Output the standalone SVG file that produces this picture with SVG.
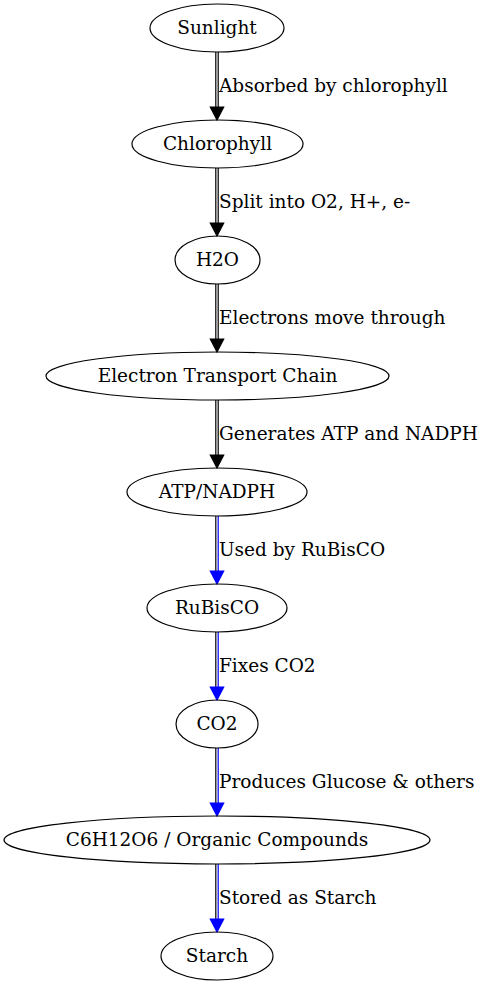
<svg xmlns="http://www.w3.org/2000/svg" width="484" height="987" viewBox="0 0 484 987">
<style>
.n ellipse{fill:none;stroke:#000;stroke-width:1.2}
text{font-family:"DejaVu Serif","Liberation Serif",serif;font-size:18.5px;fill:#000}
.n text{text-anchor:middle}
.l{stroke-width:1.2;fill:none}
.k{stroke:#000}
.b{stroke:#00f}
.ah{fill:#000;stroke:#000;stroke-width:1.2}
.ab{fill:#00f;stroke:#00f;stroke-width:1.2}
</style>
<rect width="484" height="987" fill="#fff"/>
<g id="connectors">
<g id="e1"><path class="l k" d="M215.8,52V107M218.2,52V107"/><polygon class="ah" points="210.3,107 223.7,107 217,120"/><text x="219" y="92">Absorbed by chlorophyll</text></g>
<g id="e2"><path class="l k" d="M215.8,168V223M218.2,168V223"/><polygon class="ah" points="210.3,223 223.7,223 217,236"/><text x="219" y="208">Split into O2, H+, e-</text></g>
<g id="e3"><path class="l k" d="M215.8,284V339M218.2,284V339"/><polygon class="ah" points="210.3,339 223.7,339 217,352"/><text x="219" y="324">Electrons move through</text></g>
<g id="e4"><path class="l k" d="M215.8,400V455M218.2,400V455"/><polygon class="ah" points="210.3,455 223.7,455 217,468"/><text x="219" y="440">Generates ATP and NADPH</text></g>
<g id="e5"><path class="l k" d="M215.8,516V571"/><path class="l b" d="M218.2,516V571"/><polygon class="ab" points="210.3,571 223.7,571 217,584"/><text x="219" y="556">Used by RuBisCO</text></g>
<g id="e6"><path class="l k" d="M215.8,632V687"/><path class="l b" d="M218.2,632V687"/><polygon class="ab" points="210.3,687 223.7,687 217,700"/><text x="219" y="672">Fixes CO2</text></g>
<g id="e7"><path class="l k" d="M215.8,748V803"/><path class="l b" d="M218.2,748V803"/><polygon class="ab" points="210.3,803 223.7,803 217,816"/><text x="219" y="788">Produces Glucose &amp; others</text></g>
<g id="e8"><path class="l k" d="M215.8,864V919"/><path class="l b" d="M218.2,864V919"/><polygon class="ab" points="210.3,919 223.7,919 217,932"/><text x="219" y="904">Stored as Starch</text></g>
</g>
<g id="sunlight" class="n"><ellipse cx="217" cy="28" rx="67" ry="24"/><text x="217" y="34">Sunlight</text></g>
<g id="chlorophyll" class="n"><ellipse cx="217.5" cy="144" rx="85.5" ry="24"/><text x="217.5" y="150">Chlorophyll</text></g>
<g id="h2o" class="n"><ellipse cx="217.5" cy="260" rx="42.5" ry="24"/><text x="217.5" y="266">H2O</text></g>
<g id="etc" class="n"><ellipse cx="217.5" cy="376" rx="171.5" ry="24"/><text x="217.5" y="382">Electron Transport Chain</text></g>
<g id="atp" class="n"><ellipse cx="217" cy="492" rx="90" ry="24"/><text x="217" y="498">ATP/NADPH</text></g>
<g id="rubisco" class="n"><ellipse cx="217" cy="608" rx="70" ry="24"/><text x="217" y="614">RuBisCO</text></g>
<g id="co2" class="n"><ellipse cx="217" cy="724" rx="41" ry="24"/><text x="217" y="730">CO2</text></g>
<g id="glucose" class="n"><ellipse cx="217" cy="840" rx="213" ry="24"/><text x="217" y="846">C6H12O6 / Organic Compounds</text></g>
<g id="starch" class="n"><ellipse cx="217" cy="956" rx="56" ry="24"/><text x="217" y="962">Starch</text></g>
</svg>
